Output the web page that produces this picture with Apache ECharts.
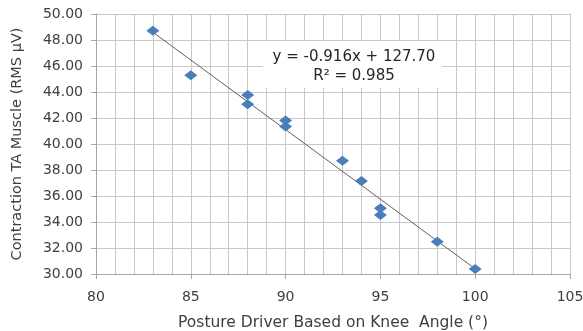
<!DOCTYPE html>
<html lang="en" style="height: 100%">
<head>
<meta charset="utf-8">
<title>Contraction TA Muscle vs Knee Angle</title>
</head>
<body style="height: 100%; margin: 0">
<div id="container" style="width: 583px; height: 331px"></div>

<script type="text/javascript" src="https://cdn.jsdelivr.net/npm/echarts/dist/echarts.min.js"></script>

<script type="text/javascript">
var dom = document.getElementById('container');
var myChart = echarts.init(dom);

// knee angle (deg) and RMS values
var kneeAngle = [83, 85, 88, 88, 90, 90, 93, 94, 95, 95, 98, 100];
var rmsValues = [48.72, 45.28, 43.77, 43.05, 41.8, 41.35, 38.72, 37.15, 35.05, 34.54, 32.48, 30.38];

// trend line as drawn (end points)
var trendX = [83, 100];
var trendY = [48.6, 30.4];

var equationText = 'y = -0.916x + 127.70';
var r2Text = 'R\u00b2 = 0.985';

var font = 'DejaVu Sans';
var textColor = '#404040';

var scatterData = kneeAngle.map(function (x, i) { return [x, rmsValues[i]]; });
var trendData = trendX.map(function (x, i) { return [x, trendY[i]]; });

var option = {
    animation: false,
    grid: { left: 96, right: 13, top: 14, bottom: 57, outerBoundsMode: 'none' },
    xAxis: {
        type: 'value',
        min: 80,
        max: 105,
        interval: 5,
        name: 'Posture Driver Based on Knee  Angle (\u00b0)',
        nameLocation: 'middle',
        nameGap: 41,
        nameTextStyle: { fontFamily: font, fontSize: 15.5, color: textColor },
        axisLine: { lineStyle: { color: '#a6a6a6' } },
        axisTick: { length: 5, lineStyle: { color: '#a6a6a6' } },
        axisLabel: { fontFamily: font, fontSize: 14, color: textColor, margin: 16 },
        splitLine: { show: true, lineStyle: { color: '#c8c8c8' } },
        minorTick: { show: false, splitNumber: 5 },
        minorSplitLine: { show: true, lineStyle: { color: '#c8c8c8' } }
    },
    yAxis: {
        type: 'value',
        min: 30,
        max: 50,
        interval: 2,
        name: 'Contraction TA Muscle (RMS \u00b5V)',
        nameLocation: 'middle',
        nameGap: 71,
        nameTextStyle: { fontFamily: font, fontSize: 14.5, color: textColor },
        axisLine: { show: true, lineStyle: { color: '#a6a6a6' } },
        axisTick: { show: true, length: 5, lineStyle: { color: '#a6a6a6' } },
        axisLabel: {
            fontFamily: font, fontSize: 14, color: textColor, margin: 13,
            formatter: function (v) { return v.toFixed(2); }
        },
        splitLine: { show: true, lineStyle: { color: '#c8c8c8' } }
    },
    graphic: [
        {
            type: 'rect',
            shape: { x: 263, y: 41, width: 179, height: 47 },
            style: { fill: '#ffffff' },
            z: 10
        },
        {
            type: 'text',
            x: 354, y: 57,
            style: {
                text: equationText,
                fontFamily: font, fontSize: 15, fill: '#262626',
                textAlign: 'center', textVerticalAlign: 'middle'
            },
            z: 11
        },
        {
            type: 'text',
            x: 354, y: 76,
            style: {
                text: r2Text,
                fontFamily: font, fontSize: 15, fill: '#262626',
                textAlign: 'center', textVerticalAlign: 'middle'
            },
            z: 11
        }
    ],
    series: [
        {
            name: 'Trend',
            type: 'line',
            data: trendData,
            symbol: 'none',
            lineStyle: { color: '#5f5f5f', width: 1 },
            z: 2
        },
        {
            name: 'Data',
            type: 'scatter',
            data: scatterData,
            symbol: 'diamond',
            symbolSize: [13, 10],
            itemStyle: { color: '#4a7ebb', opacity: 1 },
            z: 3
        }
    ]
};

myChart.setOption(option);
window.addEventListener('resize', myChart.resize);
</script>
</body>
</html>
